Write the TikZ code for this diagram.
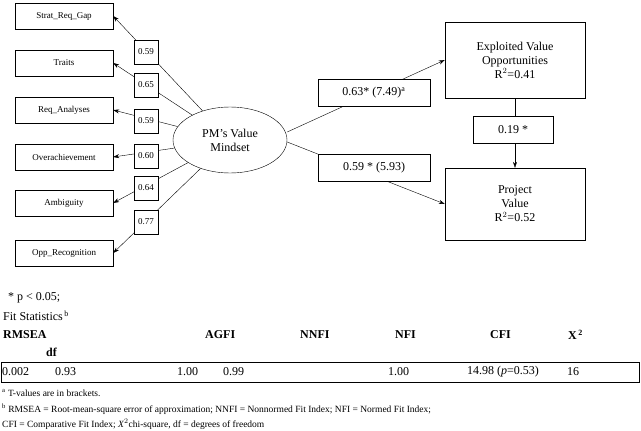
\documentclass[tikz,border=0pt]{standalone}
\usepackage{fontspec}
\setmainfont{Liberation Serif}
\usetikzlibrary{arrows.meta,shapes.geometric}
\begin{document}
\begin{tikzpicture}[x=1pt,y=-1pt,
  lbox/.style={draw,minimum width=98pt,minimum height=26pt,font=\fontsize{9}{10}\selectfont},
  coef/.style={draw,fill=white,minimum width=24pt,minimum height=24pt,inner sep=1pt,font=\fontsize{9}{10}\selectfont},
  rbox/.style={draw,minimum width=140pt,align=center,font=\fontsize{12}{14}\selectfont},
  pbox/.style={draw,fill=white,minimum width=112pt,minimum height=27pt,font=\fontsize{12}{14}\selectfont},
  arr/.style={-{Stealth[length=6pt,width=4pt]}},
  txt/.style={anchor=west,inner sep=0pt,font=\fontsize{12}{14}\selectfont},
  fn/.style={anchor=west,inner sep=0pt,font=\fontsize{9.5}{11}\selectfont}]
\useasboundingbox (0,0) rectangle (641,431);
\node[lbox] (b1) at (64,16) {Strat\_Req\_Gap};
\node[lbox] (b2) at (64,63) {Traits};
\node[lbox] (b3) at (64,110) {Req\_Analyses};
\node[lbox] (b4) at (64,157) {Overachievement};
\node[lbox] (b5) at (64,203) {Ambiguity};
\node[lbox] (b6) at (64,253) {Opp\_Recognition};
\node[draw,ellipse,minimum width=114pt,minimum height=66pt,align=center,font=\fontsize{12}{14}\selectfont] (pm) at (230,140) {PM's Value\\Mindset};
\foreach \i in {1,...,6} \draw[arr] (pm) -- (b\i.east);
\node[coef] (c1) at (146,52) {0.59};
\node[coef] (c2) at (146,85) {0.65};
\node[coef] (c3) at (146,121) {0.59};
\node[coef] (c4) at (146,156) {0.60};
\node[coef] (c5) at (146,188) {0.64};
\node[coef] (c6) at (146,222) {0.77};
\node[rbox,minimum height=76pt] (ev) at (515,60) {Exploited Value\\Opportunities\\R$^2$=0.41};
\node[rbox,minimum height=72pt] (pv) at (515,204) {Project\\Value\\R$^2$=0.52};
\draw[arr] (pm.east) ++(0,-8) coordinate (o1) -- (ev.west);
\draw[arr] (pm.east) ++(0,2) coordinate (o2) -- (pv.west);
\node[pbox] (l1) at (374,93) {0.63* (7.49)$^{\mathrm a}$};
\node[pbox] (l2) at (374,168) {0.59 * (5.93)};
\draw[arr] (ev.south) -- (pv.north);
\node[draw,fill=white,minimum width=80pt,minimum height=27pt,font=\fontsize{12}{14}\selectfont] (l3) at (513,130) {0.19 *};
\node[txt] (t1) at (8,298) {* p < 0.05;};
\node[txt] (t2) at (3,316) {Fit Statistics$^{\,\mathrm b}$};
\node[txt,font=\bfseries\fontsize{12}{14}\selectfont] at (3,335) {RMSEA};
\node[txt,font=\bfseries\fontsize{12}{14}\selectfont] at (205,335) {AGFI};
\node[txt,font=\bfseries\fontsize{12}{14}\selectfont] at (300,335) {NNFI};
\node[txt,font=\bfseries\fontsize{12}{14}\selectfont] at (395,335) {NFI};
\node[txt,font=\bfseries\fontsize{12}{14}\selectfont] at (490,335) {CFI};
\node[txt,font=\bfseries\fontsize{12}{14}\selectfont] at (568,335) {X$^{\,\mathbf 2}$};
\node[txt,font=\bfseries\fontsize{12}{14}\selectfont] at (46,352) {df};
\node[draw,minimum width=638pt,minimum height=20pt,anchor=north west] (tb) at (0.5,362) {};
\node[txt] at (2,372) {0.002};
\node[txt] at (55,372) {0.93};
\node[txt] at (177,372) {1.00};
\node[txt] at (223,372) {0.99};
\node[txt] at (388,372) {1.00};
\node[txt] at (467,372) {14.98 (\emph{p}=0.53)};
\node[txt] at (567,372) {16};
\node[fn] at (2,393) {$^{\mathrm a}$ T-values are in brackets.};
\node[fn] at (2,409) {$^{\mathrm b}$ RMSEA = Root-mean-square error of approximation; NNFI = Nonnormed Fit Index; NFI = Normed Fit Index;};
\node[fn] at (2,424) {CFI = Comparative Fit Index; \emph{X}$^2$chi-square, df = degrees of freedom};
\end{tikzpicture}
\end{document}
